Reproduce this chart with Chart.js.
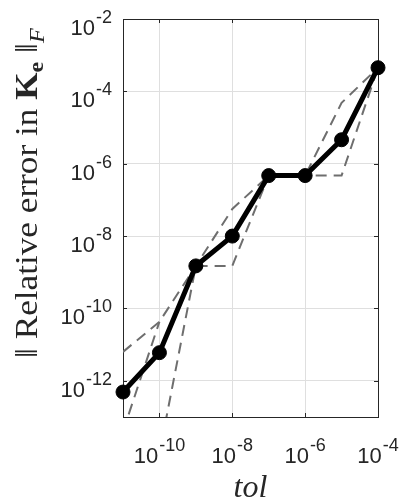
<!DOCTYPE html>
<html>
<head>
<meta charset="utf-8">
<title>Relative error vs tol</title>
<script src="https://cdn.jsdelivr.net/npm/chart.js@4.4.1/dist/chart.umd.min.js"></script>
<style>
  html, body { margin: 0; padding: 0; background: #ffffff; }
  #chart { display: block; }
</style>
</head>
<body>
<canvas id="chart" width="402" height="504"></canvas>
<script>
"use strict";

// tolerance values (x) and error norms (y)
const tol = [1e-11, 1e-10, 1e-9, 1e-8, 1e-7, 1e-6, 1e-5, 1e-4];
const errMean = [4.9e-13, 6.0e-12, 1.5e-9, 1.0e-8, 4.7e-7, 4.7e-7, 4.6e-6, 4.5e-4];
const errUpper = [6.3e-12, 4.3e-11, 1.5e-9, 5.6e-8, 4.7e-7, 4.7e-7, 4.8e-5, 4.5e-4];
const errLower = [4.0e-14, 1.0e-14, 1.5e-9, 1.5e-9, 4.7e-7, 4.7e-7, 4.7e-7, 4.5e-4];
const errOther = [4.0e-14, 4.3e-11, null, null, null, null, null, null];

// axis ticks (decades)
const xTicks = [1e-10, 1e-8, 1e-6, 1e-4];
const yTicks = [1e-12, 1e-10, 1e-8, 1e-6, 1e-4, 1e-2];

const SANS = '"Liberation Sans", Arial, Helvetica, sans-serif';
const SERIF = '"Liberation Serif", "Times New Roman", serif';
const AXIS_COLOR = '#262626';
const GRID_COLOR = '#dfdfdf';
const DASH_COLOR = '#6e6e6e';
const TICK_LEN = 4;

function toPoints(ys) {
  return tol.map((t, i) => ({ x: t, y: ys[i] }));
}

function dashed(ys) {
  return {
    data: toPoints(ys),
    borderColor: DASH_COLOR,
    borderWidth: 2,
    borderDash: [11, 7],
    pointRadius: 0,
    tension: 0,
    spanGaps: false
  };
}

// "10" with a superscript exponent
function powerLabel(ctx, exp, x, y, align) {
  let base = '10';
  let sup = String(exp);
  ctx.font = '22px ' + SANS;
  let wb = ctx.measureText(base).width;
  ctx.font = '18px ' + SANS;
  let ws = ctx.measureText(sup).width;
  let total = wb + 1 + ws;
  let left = align === 'right' ? x - total : x - total / 2;
  ctx.textAlign = 'left';
  ctx.textBaseline = 'alphabetic';
  ctx.fillStyle = AXIS_COLOR;
  ctx.font = '22px ' + SANS;
  ctx.fillText(base, left, y);
  ctx.font = '18px ' + SANS;
  ctx.fillText(sup, left + wb + 1, y - 12);
}

function drawYTitle(ctx, bx, by) {
  let parts = [
    { text: '\u2016 Relative error in ', font: '32px ' + SERIF, dy: 0 },
    { text: 'K', font: 'bold 32px ' + SERIF, dy: 0 },
    { text: 'e', font: 'bold 22px ' + SERIF, dy: 6 },
    { text: ' \u2016', font: '32px ' + SERIF, dy: 0 },
    { text: 'F', font: 'italic 22px ' + SERIF, dy: 7 }
  ];
  ctx.save();
  ctx.translate(bx, by);
  ctx.rotate(-Math.PI / 2);
  ctx.scale(1.1, 1);
  ctx.fillStyle = AXIS_COLOR;
  ctx.textAlign = 'left';
  ctx.textBaseline = 'alphabetic';
  let cx = 0;
  parts.forEach(p => {
    ctx.font = p.font;
    ctx.fillText(p.text, cx, p.dy);
    cx += ctx.measureText(p.text).width;
  });
  ctx.restore();
}

const axisDecor = {
  id: 'axisDecor',
  beforeDatasetsDraw(chart) {
    const ctx = chart.ctx;
    const a = chart.chartArea;
    const xs = chart.scales.x;
    const ys = chart.scales.y;
    ctx.save();
    ctx.strokeStyle = AXIS_COLOR;
    ctx.lineWidth = 1;
    ctx.beginPath();
    xs.ticks.forEach(t => {
      let px = Math.round(xs.getPixelForValue(t.value)) + 0.5;
      ctx.moveTo(px, a.bottom);
      ctx.lineTo(px, a.bottom - TICK_LEN);
      ctx.moveTo(px, a.top);
      ctx.lineTo(px, a.top + TICK_LEN);
    });
    ys.ticks.forEach(t => {
      let py = Math.round(ys.getPixelForValue(t.value)) + 0.5;
      ctx.moveTo(a.left, py);
      ctx.lineTo(a.left + TICK_LEN, py);
      ctx.moveTo(a.right, py);
      ctx.lineTo(a.right - TICK_LEN, py);
    });
    ctx.stroke();
    ctx.strokeRect(Math.round(a.left) + 0.5, Math.round(a.top) + 0.5,
      Math.round(a.right - a.left), Math.round(a.bottom - a.top));
    ctx.restore();
  },
  afterDraw(chart) {
    const ctx = chart.ctx;
    const a = chart.chartArea;
    const xs = chart.scales.x;
    const ys = chart.scales.y;
    ctx.save();
    ys.ticks.forEach(t => {
      let py = ys.getPixelForValue(t.value);
      powerLabel(ctx, Math.round(Math.log10(t.value)), a.left - 11, py + 16, 'right');
    });
    xs.ticks.forEach(t => {
      let px = xs.getPixelForValue(t.value);
      powerLabel(ctx, Math.round(Math.log10(t.value)), px, a.bottom + 46, 'center');
    });
    // x title
    ctx.fillStyle = AXIS_COLOR;
    ctx.font = 'italic 32px ' + SERIF;
    ctx.textAlign = 'center';
    ctx.textBaseline = 'alphabetic';
    ctx.fillText('tol', (a.left + a.right) / 2, 497);
    ctx.restore();
    drawYTitle(ctx, 37, 358);
  }
};

function logAxis(min, max, ticks, fit) {
  return {
    type: 'logarithmic',
    min: min,
    max: max,
    afterBuildTicks: scale => { scale.ticks = ticks.map(v => ({ value: v })); },
    afterFit: fit,
    ticks: { display: false },
    grid: { color: GRID_COLOR, lineWidth: 1, drawTicks: false },
    border: { display: false }
  };
}

new Chart(document.getElementById('chart').getContext('2d'), {
  type: 'line',
  data: {
    datasets: [
      {
        data: toPoints(errMean),
        borderColor: '#000000',
        backgroundColor: '#000000',
        borderWidth: 5,
        pointRadius: 7,
        pointBorderWidth: 1,
        pointBackgroundColor: '#000000',
        pointBorderColor: '#000000',
        tension: 0,
        clip: false
      },
      dashed(errUpper),
      dashed(errLower),
      dashed(errOther)
    ]
  },
  options: {
    responsive: false,
    devicePixelRatio: 1,
    animation: false,
    layout: { padding: { top: 19, right: 24, left: 0, bottom: 0 } },
    plugins: { legend: { display: false }, tooltip: { enabled: false } },
    scales: {
      x: logAxis(1e-11, 1e-4, xTicks, s => { s.height = 87; }),
      y: logAxis(1e-13, 1e-2, yTicks, s => { s.width = 123; })
    }
  },
  plugins: [axisDecor]
});
</script>
</body>
</html>
